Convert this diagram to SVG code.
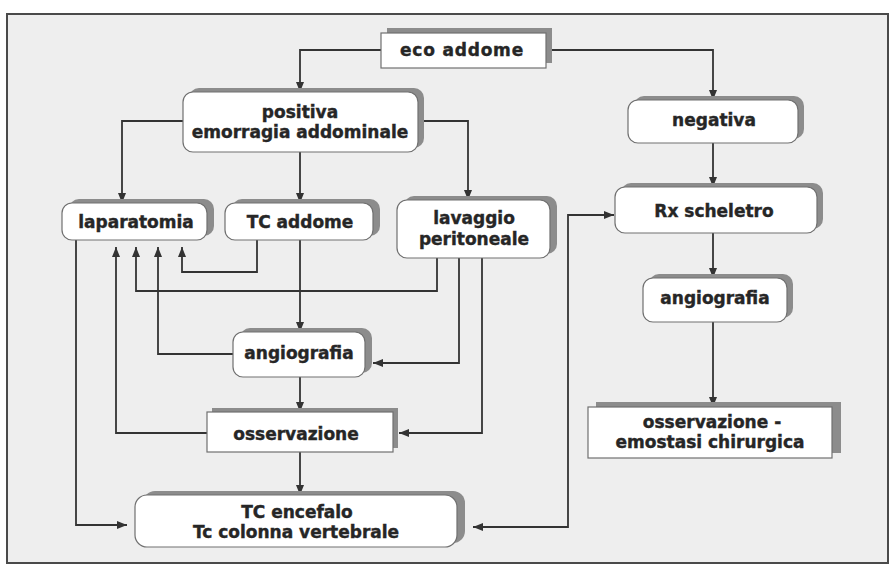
<svg xmlns="http://www.w3.org/2000/svg" width="891" height="567" viewBox="0 0 891 567">
<defs>
<style>
.bg{fill:#ffffff}
.frame{fill:#eeeeee;stroke:#4a4a4a;stroke-width:2}
.box{fill:#ffffff;stroke:#707070;stroke-width:1.2}
.sh{fill:#8c8c8c}
.t{font-family:"DejaVu Sans","Liberation Sans",sans-serif;font-weight:bold;font-size:17px;fill:#262626;stroke:#262626;stroke-width:0.4;text-anchor:middle}
.c{fill:none;stroke:#333333;stroke-width:1.8}
</style>
<marker id="ah" markerUnits="userSpaceOnUse" markerWidth="11" markerHeight="9" refX="10" refY="4" orient="auto-start-reverse">
<path d="M0,0 L10,4 L0,8 z" fill="#333333"/>
</marker>
</defs>
<rect class="bg" x="0" y="0" width="891" height="567"/>
<rect class="frame" x="7" y="14" width="881" height="549"/>

<g id="connectors">
<path class="c" marker-end="url(#ah)" d="M381,50 H300 V92"/>
<path class="c" marker-end="url(#ah)" d="M546,50 H713 V100"/>
<path class="c" marker-end="url(#ah)" d="M183,121 H122 V203"/>
<path class="c" marker-end="url(#ah)" d="M300,152 V203"/>
<path class="c" marker-end="url(#ah)" d="M418,121 H468 V200"/>
<path class="c" marker-end="url(#ah)" d="M713,143 V187"/>
<path class="c" marker-end="url(#ah)" d="M713,233 V278"/>
<path class="c" marker-end="url(#ah)" d="M713,322 V407"/>
<path class="c" marker-end="url(#ah)" d="M300,240 V332"/>
<path class="c" marker-end="url(#ah)" d="M257,240 V272 H182 V247"/>
<path class="c" marker-end="url(#ah)" d="M437,258 V291 H136 V247"/>
<path class="c" marker-end="url(#ah)" d="M459,258 V363 H373"/>
<path class="c" marker-end="url(#ah)" d="M482,258 V433 H399"/>
<path class="c" marker-end="url(#ah)" d="M233,354 H158 V247"/>
<path class="c" marker-end="url(#ah)" d="M300,377 V412"/>
<path class="c" marker-end="url(#ah)" d="M207,433 H116 V247"/>
<path class="c" marker-end="url(#ah)" d="M300,452 V495"/>
<path class="c" marker-end="url(#ah)" d="M76,240 V525 H127"/>
<path class="c" marker-start="url(#ah)" marker-end="url(#ah)" d="M473,527 H568 V215 H614"/>
</g>

<g id="eco-addome">
<rect class="sh" x="387" y="28" width="165" height="35"/>
<rect class="box" x="381" y="33" width="165" height="35"/>
<text class="t" x="462" y="56" letter-spacing="0.8">eco addome</text>
</g>

<g id="positiva">
<rect class="sh" x="189" y="88" width="235" height="60" rx="10"/>
<rect class="box" x="183" y="92" width="235" height="60" rx="10"/>
<text class="t" x="300" y="118">positiva</text>
<text class="t" x="300" y="138">emorragia addominale</text>
</g>

<g id="negativa">
<rect class="sh" x="634" y="96" width="170" height="43" rx="10"/>
<rect class="box" x="628" y="100" width="170" height="43" rx="10"/>
<text class="t" x="714" y="126">negativa</text>
</g>

<g id="rx-scheletro">
<rect class="sh" x="621" y="183" width="202" height="46" rx="10"/>
<rect class="box" x="615" y="187" width="202" height="46" rx="10"/>
<text class="t" x="714" y="217">Rx scheletro</text>
</g>

<g id="angiografia-destra">
<rect class="sh" x="649" y="274" width="144" height="44" rx="10"/>
<rect class="box" x="643" y="278" width="144" height="44" rx="10"/>
<text class="t" x="715" y="304">angiografia</text>
</g>

<g id="osservazione-emostasi">
<rect class="sh" x="596" y="402" width="245" height="51"/>
<rect class="box" x="588" y="407" width="244" height="51"/>
<text class="t" x="712" y="428">osservazione -</text>
<text class="t" x="710" y="448">emostasi chirurgica</text>
</g>

<g id="laparatomia">
<rect class="sh" x="69" y="199" width="145" height="37" rx="10"/>
<rect class="box" x="62" y="203" width="145" height="37" rx="10"/>
<text class="t" x="136" y="228">laparatomia</text>
</g>

<g id="tc-addome">
<rect class="sh" x="232" y="199" width="148" height="37" rx="10"/>
<rect class="box" x="225" y="203" width="148" height="37" rx="10"/>
<text class="t" x="300" y="228">TC addome</text>
</g>

<g id="lavaggio-peritoneale">
<rect class="sh" x="404" y="196" width="153" height="58" rx="10"/>
<rect class="box" x="397" y="200" width="153" height="58" rx="10"/>
<text class="t" x="474" y="224">lavaggio</text>
<text class="t" x="474" y="245">peritoneale</text>
</g>

<g id="angiografia-centro">
<rect class="sh" x="240" y="328" width="132" height="45" rx="10"/>
<rect class="box" x="233" y="332" width="132" height="45" rx="10"/>
<text class="t" x="299" y="359">angiografia</text>
</g>

<g id="osservazione">
<rect class="sh" x="212" y="408" width="186" height="40"/>
<rect class="box" x="207" y="412" width="186" height="40"/>
<text class="t" x="296" y="440">osservazione</text>
</g>

<g id="tc-encefalo">
<rect class="sh" x="143" y="491" width="322" height="52" rx="12"/>
<rect class="box" x="135" y="495" width="322" height="52" rx="12"/>
<text class="t" x="297" y="518">TC encefalo</text>
<text class="t" x="296" y="538">Tc colonna vertebrale</text>
</g>
</svg>
